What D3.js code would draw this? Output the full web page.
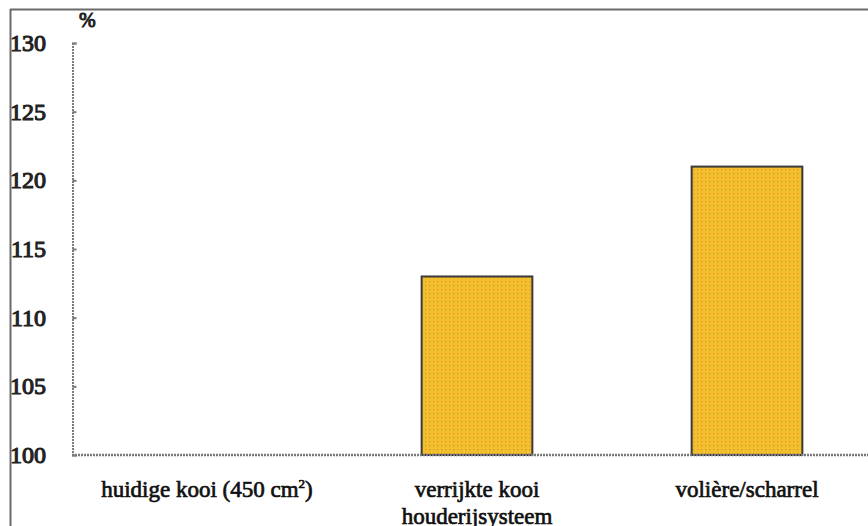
<!DOCTYPE html>
<html>
<head>
<meta charset="utf-8">
<script src="https://cdn.jsdelivr.net/npm/d3@7"></script>
</head>
<body style="margin:0;padding:0;background:#fff">
<svg id="chart" width="868" height="526" style="display:block" font-family="Times New Roman, Liberation Serif, Tinos, serif"></svg>
<script>
// Housing systems and their relative index (current cage = 100)
const categories = ["huidige kooi (450 cm²)", "verrijkte kooi\nhouderijsysteem", "volière/scharrel"];
const values = [100, 113, 121];
const yTicks = [100, 105, 110, 115, 120, 125, 130];

const FONT = '"Times New Roman", "Liberation Serif", Tinos, serif';
const svg = d3.select("#chart");
const W = 868, H = 526;

const x = d3.scaleBand().domain(categories).range([72, 882]).paddingInner(0.59).paddingOuter(0.295);
const y = d3.scaleLinear().domain([100, 130]).range([455, 43]);

// dotted fill for the bars
const defs = svg.append("defs");
const pat = defs.append("pattern")
  .attr("id", "dots").attr("patternUnits", "userSpaceOnUse")
  .attr("width", 4).attr("height", 4);
pat.append("rect").attr("width", 4).attr("height", 4).attr("fill", "#f6c02a");
pat.append("rect").attr("x", 1).attr("y", 1).attr("width", 1.3).attr("height", 1.3).attr("fill", "#d8923c");
pat.append("rect").attr("x", 3).attr("y", 3).attr("width", 1).attr("height", 1).attr("fill", "#d2c83a");

// frame line at top
svg.append("line").attr("x1", 10).attr("x2", W).attr("y1", 9.5).attr("y2", 9.5)
  .attr("stroke", "#6a6a6a").attr("stroke-width", 2);

// bars
svg.selectAll("rect.bar")
  .data(categories.map((c, i) => ({ c, v: values[i] })).filter(d => d.v > 100))
  .join("rect")
  .attr("class", "bar")
  .attr("x", d => x(d.c))
  .attr("y", d => y(d.v))
  .attr("width", x.bandwidth())
  .attr("height", d => y(100) - y(d.v))
  .attr("fill", "url(#dots)")
  .attr("stroke", "#3a3a3a")
  .attr("stroke-width", 2);

// y axis
const yAxis = d3.axisRight(y).tickValues(yTicks).tickSize(4).tickFormat("");
const gy = svg.append("g").attr("transform", "translate(72.5,0)").call(yAxis);
gy.attr("font-family", null);
gy.select(".domain").attr("stroke", "#7a7a7a").attr("stroke-width", 2).attr("stroke-dasharray", "2,1");
gy.selectAll(".tick line").attr("stroke", "#7a7a7a").attr("stroke-width", 2);

// tick labels (regular face, thickened with a thin outline)
svg.selectAll("text.ytick")
  .data(yTicks)
  .join("text")
  .attr("class", "ytick")
  .attr("x", 46)
  .attr("y", d => y(d) + 8)
  .attr("text-anchor", "end")
  .style("font-family", FONT)
  .style("font-size", "24px")
  .attr("fill", "#222")
  .attr("stroke", "#222")
  .attr("stroke-width", 1.1)
  .text(d => d);

// left frame line drawn over the tick labels
svg.append("line").attr("x1", 10.5).attr("x2", 10.5).attr("y1", 9).attr("y2", H)
  .attr("stroke", "#6a6a6a").attr("stroke-width", 2);

// baseline
svg.append("line").attr("x1", 72).attr("x2", W).attr("y1", y(100)).attr("y2", y(100))
  .attr("stroke", "#7a7a7a").attr("stroke-width", 2.5).attr("stroke-dasharray", "2,1");

// unit label
svg.append("text").attr("x", 79).attr("y", 27)
  .style("font-family", FONT)
  .style("font-size", "20px").attr("fill", "#222")
  .attr("stroke", "#222").attr("stroke-width", 1)
  .text("%");

// category labels
const lab = svg.selectAll("text.cat")
  .data(categories)
  .join("text")
  .attr("class", "cat")
  .attr("text-anchor", "middle")
  .style("font-family", FONT)
  .style("font-size", "23px")
  .attr("fill", "#111")
  .attr("stroke", "#111")
  .attr("stroke-width", 0.7)
  .attr("transform", d => `translate(${x(d) + x.bandwidth() / 2},497)`);
lab.each(function(d) {
  const t = d3.select(this);
  d.split("\n").forEach((line, i) => {
    const sp = t.append("tspan").attr("x", 0).attr("dy", i === 0 ? 0 : 27);
    const m = line.match(/^(.*cm)²(.*)$/);
    if (m) {
      sp.text(m[1]);
      t.append("tspan").style("font-size", "13px").attr("dy", -9).text("2");
      t.append("tspan").attr("dy", 9).text(m[2]);
    } else {
      sp.text(line);
    }
  });
});
</script>
</body>
</html>
